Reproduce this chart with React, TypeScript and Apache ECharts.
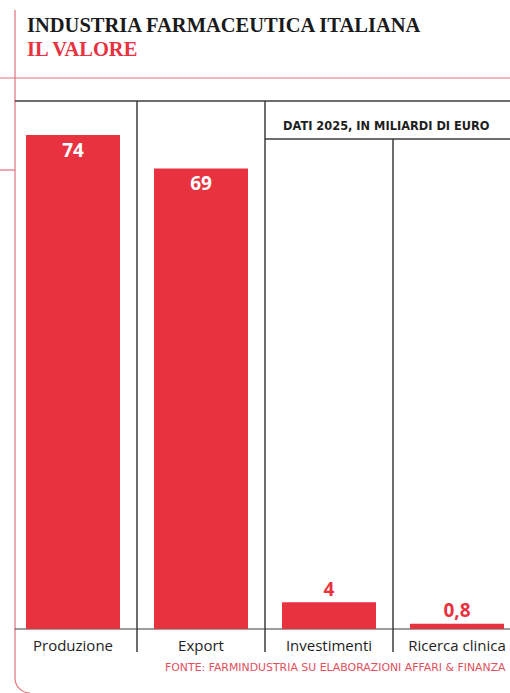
import React, { useEffect, useRef } from "react";
import * as echarts from "echarts";

const categories = ["Produzione", "Export", "Investimenti", "Ricerca clinica"];
const values = [74, 69, 4, 0.8];
const insideLabel = [true, true, false, false];

const RED = "#e8323f";
const FRAME = "#e0727c";
const DARK = "#3c3c3c";

export default function App() {
  const ref = useRef<HTMLDivElement>(null);
  useEffect(() => {
    document.body.style.margin = "0";
    document.body.style.overflow = "hidden";
    const chart = echarts.init(ref.current!, null, { renderer: "svg" });
    const line = (x1: number, y1: number, x2: number, y2: number, color: string, w = 1.2) => ({
      type: "line",
      shape: { x1, y1, x2, y2 },
      style: { stroke: color, lineWidth: w },
      silent: true,
    });
    chart.setOption({
      animation: false,
      backgroundColor: "#ffffff",
      grid: { left: 9, right: 0, top: 95, bottom: 64, containLabel: false },
      xAxis: {
        type: "category",
        data: categories,
        axisLine: { show: false },
        axisTick: { show: false },
        axisLabel: {
          margin: 8,
          color: "#1e1e1e",
          fontFamily: "Open Sans",
          fontSize: 15,
        },
      },
      yAxis: {
        type: "value",
        min: 0,
        max: 80,
        show: false,
        splitLine: { show: false },
      },
      series: [
        {
          type: "bar",
          barWidth: 94,
          data: values.map((v, i) => ({
            value: v,
            label: insideLabel[i]
              ? { position: "insideTop", distance: 5, color: "#ffffff" }
              : { position: "top", distance: 4, color: RED },
          })),
          itemStyle: { color: RED },
          label: {
            show: true,
            fontFamily: "Open Sans",
            fontWeight: "bold",
            fontSize: 19,
            formatter: (p: any) => String(p.value).replace(".", ","),
          },
        },
      ],
      graphic: [
        line(15, 10, 15, 678, FRAME),
        {
          type: "arc",
          shape: { cx: 30, cy: 678, r: 15, startAngle: Math.PI / 2, endAngle: Math.PI, clockwise: true },
          style: { stroke: FRAME, lineWidth: 1.2, fill: "none" },
          silent: true,
        },
        line(0, 78, 521, 78, FRAME),
        line(0, 170, 15, 170, FRAME),
        line(15, 101, 521, 101, DARK, 1.5),
        line(265, 139, 521, 139, DARK, 1.5),
        line(137, 101, 137, 652, DARK, 1.5),
        line(265, 101, 265, 652, DARK, 1.5),
        line(393, 139, 393, 652, DARK, 1.5),
        line(15, 629, 521, 629, DARK, 1.2),
        {
          type: "text",
          left: 27,
          top: 14,
          style: {
            text: "INDUSTRIA FARMACEUTICA ITALIANA",
            fill: "#1a1a1a",
            fontFamily: "Liberation Serif",
            fontWeight: "bold",
            fontSize: 20.5,
          },
        },
        {
          type: "text",
          left: 27,
          top: 38,
          style: {
            text: "IL VALORE",
            fill: RED,
            fontFamily: "Liberation Serif",
            fontWeight: "bold",
            fontSize: 20.5,
          },
        },
        {
          type: "text",
          left: 283,
          top: 120,
          style: {
            text: "DATI 2025, IN MILIARDI DI EURO",
            fill: "#1e1e1e",
            fontFamily: "DejaVu Sans",
            fontWeight: "bold",
            fontSize: 11.4,
          },
        },
        {
          type: "text",
          left: 165,
          top: 662,
          style: {
            text: "FONTE: FARMINDUSTRIA SU ELABORAZIONI AFFARI & FINANZA",
            fill: "#e0505c",
            fontFamily: "DejaVu Sans",
            fontSize: 10.9,
          },
        },
      ],
    });
    return () => chart.dispose();
  }, []);
  return <div ref={ref} style={{ width: 521, height: 693 }} />;
}
